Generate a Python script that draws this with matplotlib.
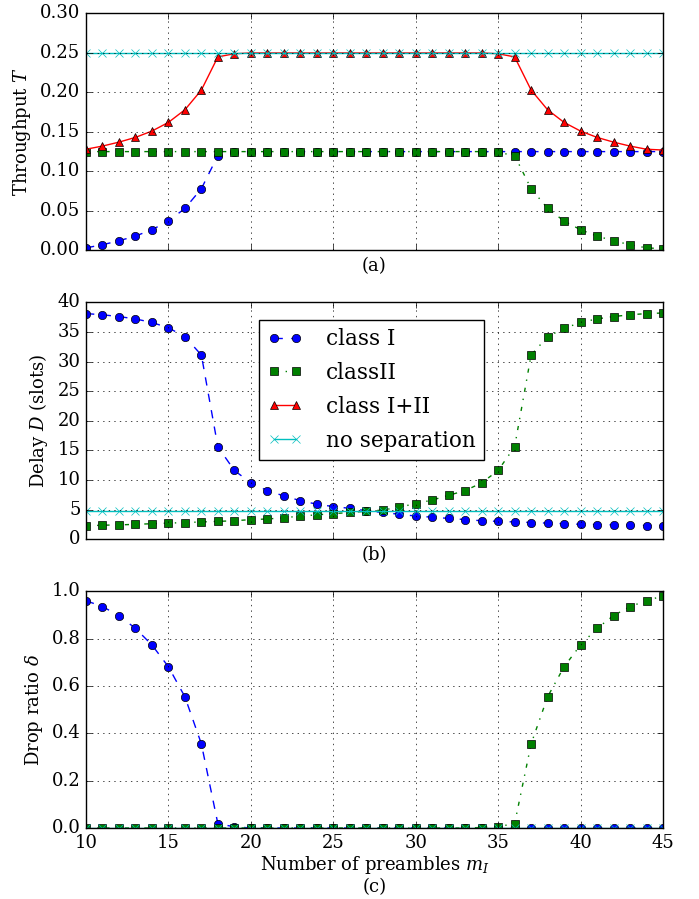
import matplotlib
matplotlib.use("Agg")
import matplotlib.pyplot as plt

plt.style.use("classic")
plt.rcParams["font.family"] = ["DejaVu Serif"]
plt.rcParams["mathtext.fontset"] = "dejavuserif"

m_I = list(range(10, 46))

thr_class1 = [0.003, 0.007, 0.012, 0.018, 0.026, 0.037, 0.053, 0.078, 0.120, 0.124] + [0.125] * 26
thr_class2 = [0.125] * 25 + [0.124, 0.120, 0.078, 0.053, 0.037, 0.026, 0.018, 0.012, 0.007, 0.003, 0.002]
thr_class12 = [0.128, 0.132, 0.137, 0.143, 0.151, 0.162, 0.178, 0.203, 0.245, 0.249] + [0.25] * 15 + \
              [0.249, 0.245, 0.203, 0.178, 0.162, 0.151, 0.143, 0.137, 0.132, 0.128, 0.127]
thr_nosep = [0.25] * 36

delay_class1 = [38.1, 37.9, 37.6, 37.2, 36.6, 35.7, 34.2, 31.1, 15.6, 11.6, 9.5, 8.2, 7.3, 6.5, 5.9, 5.5,
                5.2, 4.8, 4.5, 4.2, 3.9, 3.7, 3.5, 3.3, 3.1, 3.0, 2.9, 2.8, 2.7, 2.6, 2.5, 2.45, 2.4, 2.35,
                2.3, 2.25]
delay_class2 = [2.25, 2.35, 2.4, 2.5, 2.6, 2.7, 2.8, 2.9, 3.0, 3.1, 3.3, 3.4, 3.6, 3.9, 4.1, 4.3, 4.5, 4.7,
                4.9, 5.4, 6.0, 6.6, 7.4, 8.2, 9.5, 11.6, 15.6, 31.1, 34.2, 35.6, 36.6, 37.2, 37.6, 37.9,
                38.1, 38.2]
delay_nosep = [4.75] * 36

drop_class1 = [0.96, 0.935, 0.897, 0.843, 0.773, 0.681, 0.554, 0.355, 0.018, 0.005] + [0.0] * 26
drop_class2 = [0.0] * 24 + [0.002, 0.006, 0.018, 0.355, 0.554, 0.681, 0.773, 0.843, 0.897, 0.935, 0.96, 0.98]
drop_nosep = [0.0] * 36

labels = ["class I", "classII", "class I+II", "no separation"]

fig, axes = plt.subplots(3, 1, figsize=(6.99, 8.99), dpi=100, sharex=True)
fig.subplots_adjust(left=0.123, right=0.9485, top=0.985, bottom=0.079, hspace=0.22)

s1 = dict(color="b", linestyle="--", marker="o", markersize=6)
s2 = dict(color="g", linestyle="-.", marker="s", markersize=6)
s3 = dict(color="r", linestyle="-", marker="^", markersize=6)
s4 = dict(color="c", linestyle="-", marker="x", markersize=6, markeredgecolor="c")

ax = axes[0]
ax.plot(m_I, thr_class1, label=labels[0], **s1)
ax.plot(m_I, thr_class2, label=labels[1], **s2)
ax.plot(m_I, thr_class12, label=labels[2], **s3)
ax.plot(m_I, thr_nosep, label=labels[3], **s4)
ax.set_ylim(0, 0.30)
ax.set_yticks([0.0, 0.05, 0.10, 0.15, 0.20, 0.25, 0.30])
ax.set_yticklabels(["0.00", "0.05", "0.10", "0.15", "0.20", "0.25", "0.30"])
ax.set_ylabel("Throughput $T$", fontsize=13)
ax.set_xlabel("(a)", fontsize=13)
ax.xaxis.set_tick_params(labelbottom=False)

ax = axes[1]
ax.plot(m_I, delay_class1, label=labels[0], **s1)
ax.plot(m_I, delay_class2, label=labels[1], **s2)
ax.plot([], [], label=labels[2], **s3)
ax.plot(m_I, delay_nosep, label=labels[3], **s4)
ax.set_ylim(0, 40)
ax.set_yticks(range(0, 41, 5))
ax.set_ylabel("Delay $D$ (slots)", fontsize=13)
ax.set_xlabel("(b)", fontsize=13)
ax.xaxis.set_tick_params(labelbottom=False)
ax.legend(loc="center", bbox_to_anchor=(0.495, 0.63), fontsize=15.5, numpoints=2,
          fancybox=False, handlelength=1.6, labelspacing=0.55, handletextpad=1.1,
          borderpad=0.4)

ax = axes[2]
ax.plot(m_I, drop_class1, **s1)
ax.plot(m_I, drop_class2, **s2)
ax.plot(m_I, drop_nosep, **s4)
ax.set_ylim(0, 1.0)
ax.set_yticks([0.0, 0.2, 0.4, 0.6, 0.8, 1.0])
ax.set_ylabel("Drop ratio $\\delta$", fontsize=13)
ax.set_xlabel("Number of preambles $m_I$\n(c)", fontsize=13, linespacing=1.1, labelpad=2)

for ax in axes:
    ax.set_xlim(10, 45)
    ax.set_xticks(range(10, 46, 5))
    ax.grid(True)
    ax.tick_params(labelsize=13)

fig.savefig("out.png", dpi=100)
